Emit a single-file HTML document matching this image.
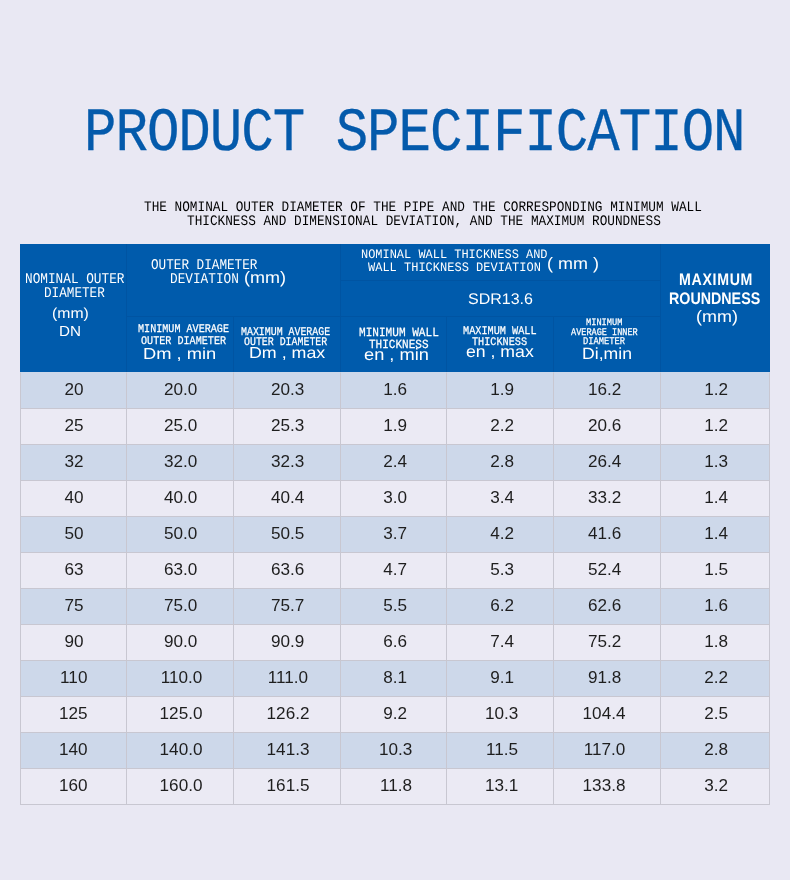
<!DOCTYPE html>
<html lang="en"><head><meta charset="utf-8"><title>Product Specification</title>
<style>
html,body{margin:0;padding:0}
body{width:790px;height:880px;background:#e9e8f3;position:relative;overflow:hidden;font-family:"Liberation Sans", "DejaVu Sans", sans-serif}
.t{position:absolute;white-space:pre;text-rendering:geometricPrecision;line-height:1;transform-origin:0 0;margin:0;font-weight:normal}
.m{font-family:"Liberation Mono", "DejaVu Sans Mono", monospace;color:#fff}
.mb{font-family:"Liberation Mono", "DejaVu Sans Mono", monospace;color:#fff;font-weight:bold}
.mt{font-family:"Liberation Mono", "DejaVu Sans Mono", monospace;color:#045aab}
.mk{font-family:"Liberation Mono", "DejaVu Sans Mono", monospace;color:#000}
.s{font-family:"Liberation Sans", "DejaVu Sans", sans-serif;color:#fff}
.sb{font-family:"Liberation Sans", "DejaVu Sans", sans-serif;color:#fff;font-weight:bold}
.n{font-family:"Liberation Sans", "DejaVu Sans", sans-serif;color:#fff}
#head{position:absolute;left:20px;top:244px;width:750px;height:128px;background:#005bac}
#head i{position:absolute;background:#0054a2;display:block}
table{position:absolute;left:20px;top:372px;width:750px;border-spacing:0;border-collapse:separate;table-layout:fixed;font-family:"Liberation Sans", "DejaVu Sans", sans-serif;font-size:16px;color:#1e1e1e}
td{height:36px;box-sizing:border-box;padding:7px 0 0 0;text-align:center;vertical-align:top;border-left:1px solid #c8c7d1;border-top:1px solid #c8c7d1;line-height:20px}
tr:first-child td{border-top-color:#cdd8ea}
td:last-child{border-right:1px solid #c8c7d1}
tr:nth-child(odd) td{background:#cdd8ea}
tr:nth-child(even) td{background:#ebeaf4}
td span{display:inline-block;transform:scaleX(1.07)}
td:nth-child(2),td:nth-child(3),td:nth-child(7){padding-left:2px}
td:nth-child(4),td:nth-child(5){padding-left:4px}
td:nth-child(6){padding-right:5px}
#bot{position:absolute;left:20px;top:804px;width:750px;height:1px;background:#c8c7d1}
</style></head><body>
<h1 class="t mt" style="left:83.90px;top:103.65px;font-size:61.52px;transform:scaleX(0.8800);letter-spacing:-1.17px;-webkit-text-stroke:0.3px #045aab;">PRODUCT SPECIFICATION</h1>
<p class="t mk" style="left:144.00px;top:200.90px;font-size:14.55px;transform:scaleX(0.8754);">THE NOMINAL OUTER DIAMETER OF THE PIPE AND THE CORRESPONDING MINIMUM WALL</p>
<p class="t mk" style="left:186.57px;top:215.25px;font-size:14.55px;transform:scaleX(0.8754);">THICKNESS AND DIMENSIONAL DEVIATION, AND THE MAXIMUM ROUNDNESS</p>
<div id="head">
<i style="left:106px;top:0px;width:1px;height:128px"></i>
<i style="left:320px;top:0px;width:1px;height:128px"></i>
<i style="left:640px;top:0px;width:1px;height:128px"></i>
<i style="left:213px;top:72px;width:1px;height:56px"></i>
<i style="left:426px;top:72px;width:1px;height:56px"></i>
<i style="left:533px;top:72px;width:1px;height:56px"></i>
<i style="left:107px;top:72px;width:213px;height:1px"></i>
<i style="left:321px;top:72px;width:319px;height:1px"></i>
<i style="left:321px;top:36px;width:319px;height:1px"></i>
<span class="t m" style="left:4.60px;top:28.77px;font-size:14.85px;transform:scaleX(0.8587);">NOMINAL OUTER</span>
<span class="t m" style="left:24.16px;top:42.71px;font-size:14.85px;transform:scaleX(0.8531);">DIAMETER</span>
<span class="t s" style="left:32.01px;top:63.11px;font-size:14.60px;transform:scaleX(1.0800);">(mm)</span>
<span class="t s" style="left:38.80px;top:80.87px;font-size:14.50px;transform:scaleX(1.0500);">DN</span>
<span class="t m" style="left:130.80px;top:14.67px;font-size:14.85px;transform:scaleX(0.8531);">OUTER DIAMETER</span>
<span class="t m" style="left:150.10px;top:29.00px;font-size:14.85px;transform:scaleX(0.8587);">DEVIATION</span>
<span class="t s" style="left:223.81px;top:26.25px;font-size:16.50px;transform:scaleX(1.0920);">(mm)</span>
<span class="t m" style="left:340.60px;top:4.10px;font-size:13.03px;transform:scaleX(0.9184);">NOMINAL WALL THICKNESS AND</span>
<span class="t m" style="left:348.10px;top:16.74px;font-size:13.03px;transform:scaleX(0.9222);">WALL THICKNESS DEVIATION</span>
<span class="t s" style="left:526.91px;top:11.58px;font-size:16.50px;transform:scaleX(1.0890);">( mm )</span>
<span class="t n" style="left:447.80px;top:47.58px;font-size:15.40px;transform:scaleX(1.0400);">SDR13.6</span>
<span class="t sb" style="left:658.80px;top:28.26px;font-size:16.70px;transform:scaleX(0.8500);letter-spacing:0.8px;">MAXIMUM</span>
<span class="t sb" style="left:649.20px;top:47.00px;font-size:16.70px;transform:scaleX(0.8550);">ROUNDNESS</span>
<span class="t s" style="left:675.80px;top:64.85px;font-size:16.50px;transform:scaleX(1.0880);">(mm)</span>
<span class="t m" style="left:117.71px;top:80.30px;font-size:11.67px;transform:scaleX(0.8671);-webkit-text-stroke:0.25px #fff;">MINIMUM AVERAGE</span>
<span class="t m" style="left:120.79px;top:92.10px;font-size:11.67px;transform:scaleX(0.8686);-webkit-text-stroke:0.25px #fff;">OUTER DIAMETER</span>
<span class="t s" style="left:123.00px;top:103.18px;font-size:16.00px;transform:scaleX(1.1450);">Dm , min</span>
<span class="t m" style="left:221.20px;top:82.74px;font-size:11.82px;transform:scaleX(0.8377);-webkit-text-stroke:0.25px #fff;">MAXIMUM AVERAGE</span>
<span class="t m" style="left:223.80px;top:93.10px;font-size:11.67px;transform:scaleX(0.8500);-webkit-text-stroke:0.25px #fff;">OUTER DIAMETER</span>
<span class="t s" style="left:228.79px;top:102.30px;font-size:16.00px;transform:scaleX(1.1140);">Dm , max</span>
<span class="t m" style="left:338.93px;top:82.70px;font-size:12.42px;transform:scaleX(0.8934);-webkit-text-stroke:0.25px #fff;">MINIMUM WALL</span>
<span class="t m" style="left:349.20px;top:94.70px;font-size:12.42px;transform:scaleX(0.8880);-webkit-text-stroke:0.25px #fff;">THICKNESS</span>
<span class="t s" style="left:343.94px;top:102.58px;font-size:16.50px;transform:scaleX(1.1050);">en , min</span>
<span class="t m" style="left:442.59px;top:82.28px;font-size:11.67px;transform:scaleX(0.8757);-webkit-text-stroke:0.25px #fff;">MAXIMUM WALL</span>
<span class="t m" style="left:452.40px;top:93.30px;font-size:11.67px;transform:scaleX(0.8743);-webkit-text-stroke:0.25px #fff;">THICKNESS</span>
<span class="t s" style="left:446.40px;top:99.77px;font-size:16.50px;transform:scaleX(1.0700);">en , max</span>
<span class="t m" style="left:566.20px;top:74.31px;font-size:9.85px;transform:scaleX(0.8800);-webkit-text-stroke:0.25px #fff;">MINIMUM</span>
<span class="t m" style="left:550.50px;top:85.24px;font-size:10.15px;transform:scaleX(0.8439);-webkit-text-stroke:0.25px #fff;">AVERAGE INNER</span>
<span class="t m" style="left:563.20px;top:92.88px;font-size:10.30px;transform:scaleX(0.8476);-webkit-text-stroke:0.25px #fff;">DIAMETER</span>
<span class="t n" style="left:562.00px;top:102.05px;font-size:16.20px;transform:scaleX(1.0900);">Di,min</span>
</div>
<table><colgroup><col style="width:106px"><col style="width:107px"><col style="width:107px"><col style="width:106px"><col style="width:107px"><col style="width:107px"><col style="width:110px"></colgroup><tbody>
<tr><td><span>20</span></td><td><span>20.0</span></td><td><span>20.3</span></td><td><span>1.6</span></td><td><span>1.9</span></td><td><span>16.2</span></td><td><span>1.2</span></td></tr>
<tr><td><span>25</span></td><td><span>25.0</span></td><td><span>25.3</span></td><td><span>1.9</span></td><td><span>2.2</span></td><td><span>20.6</span></td><td><span>1.2</span></td></tr>
<tr><td><span>32</span></td><td><span>32.0</span></td><td><span>32.3</span></td><td><span>2.4</span></td><td><span>2.8</span></td><td><span>26.4</span></td><td><span>1.3</span></td></tr>
<tr><td><span>40</span></td><td><span>40.0</span></td><td><span>40.4</span></td><td><span>3.0</span></td><td><span>3.4</span></td><td><span>33.2</span></td><td><span>1.4</span></td></tr>
<tr><td><span>50</span></td><td><span>50.0</span></td><td><span>50.5</span></td><td><span>3.7</span></td><td><span>4.2</span></td><td><span>41.6</span></td><td><span>1.4</span></td></tr>
<tr><td><span>63</span></td><td><span>63.0</span></td><td><span>63.6</span></td><td><span>4.7</span></td><td><span>5.3</span></td><td><span>52.4</span></td><td><span>1.5</span></td></tr>
<tr><td><span>75</span></td><td><span>75.0</span></td><td><span>75.7</span></td><td><span>5.5</span></td><td><span>6.2</span></td><td><span>62.6</span></td><td><span>1.6</span></td></tr>
<tr><td><span>90</span></td><td><span>90.0</span></td><td><span>90.9</span></td><td><span>6.6</span></td><td><span>7.4</span></td><td><span>75.2</span></td><td><span>1.8</span></td></tr>
<tr><td><span>110</span></td><td><span>110.0</span></td><td><span>111.0</span></td><td><span>8.1</span></td><td><span>9.1</span></td><td><span>91.8</span></td><td><span>2.2</span></td></tr>
<tr><td><span>125</span></td><td><span>125.0</span></td><td><span>126.2</span></td><td><span>9.2</span></td><td><span>10.3</span></td><td><span>104.4</span></td><td><span>2.5</span></td></tr>
<tr><td><span>140</span></td><td><span>140.0</span></td><td><span>141.3</span></td><td><span>10.3</span></td><td><span>11.5</span></td><td><span>117.0</span></td><td><span>2.8</span></td></tr>
<tr><td><span>160</span></td><td><span>160.0</span></td><td><span>161.5</span></td><td><span>11.8</span></td><td><span>13.1</span></td><td><span>133.8</span></td><td><span>3.2</span></td></tr>
</tbody></table><div id="bot"></div>
</body></html>
